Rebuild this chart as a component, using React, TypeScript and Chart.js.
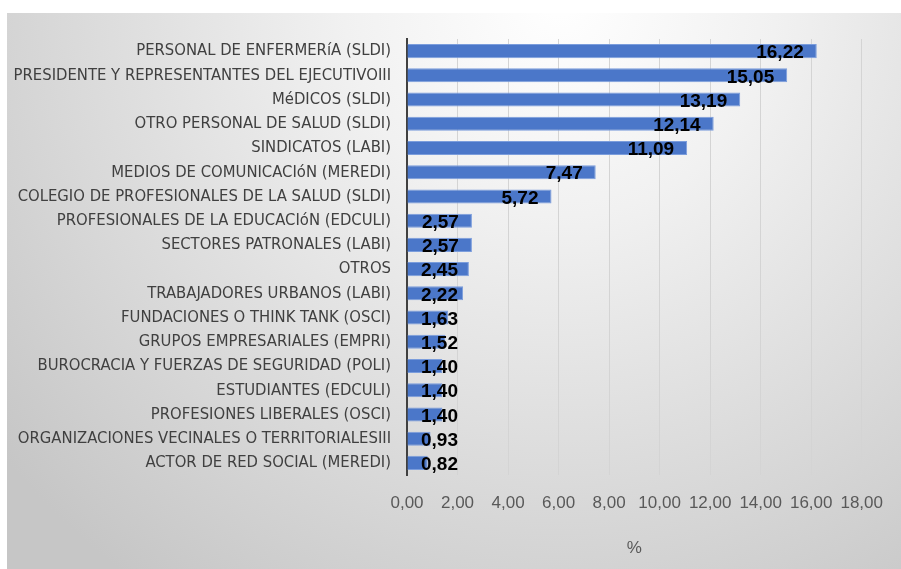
import React, { useEffect, useRef } from "react";
import { Chart, registerables } from "chart.js";

Chart.register(...registerables);

const categories: string[] = [
  "PERSONAL DE ENFERMERíA (SLDI)",
  "PRESIDENTE Y REPRESENTANTES DEL EJECUTIVOIII",
  "MéDICOS (SLDI)",
  "OTRO PERSONAL DE SALUD (SLDI)",
  "SINDICATOS (LABI)",
  "MEDIOS DE COMUNICACIóN (MEREDI)",
  "COLEGIO DE PROFESIONALES DE LA SALUD (SLDI)",
  "PROFESIONALES DE LA EDUCACIóN (EDCULI)",
  "SECTORES PATRONALES (LABI)",
  "OTROS",
  "TRABAJADORES URBANOS (LABI)",
  "FUNDACIONES O THINK TANK (OSCI)",
  "GRUPOS EMPRESARIALES (EMPRI)",
  "BUROCRACIA Y FUERZAS DE SEGURIDAD (POLI)",
  "ESTUDIANTES (EDCULI)",
  "PROFESIONES LIBERALES (OSCI)",
  "ORGANIZACIONES VECINALES O TERRITORIALESIII",
  "ACTOR DE RED SOCIAL (MEREDI)",
];

const values: number[] = [
  16.22, 15.05, 13.19, 12.14, 11.09, 7.47, 5.72, 2.57, 2.57, 2.45, 2.22, 1.63,
  1.52, 1.4, 1.4, 1.4, 0.93, 0.82,
];

const axisMax = 18;
const axisStep = 2;
const axisTitle = "%";

const fmt = (v: number) => v.toFixed(2).replace(".", ",");

const bgPlugin = {
  id: "panelBg",
  beforeDraw(chart: any) {
    const { ctx, width, height } = chart;
    ctx.save();
    ctx.fillStyle = "#ffffff";
    ctx.fillRect(0, 0, width, height);
    const g = ctx.createRadialGradient(560, 0, 0, 560, 0, 720);
    g.addColorStop(0, "#ffffff");
    g.addColorStop(0.3, "#f1f1f1");
    g.addColorStop(1, "#c6c6c6");
    ctx.fillStyle = g;
    ctx.fillRect(7, 13, width - 7, height - 13);
    ctx.restore();
  },
};

const labelPlugin = {
  id: "barLabels",
  afterDatasetsDraw(chart: any) {
    const { ctx } = chart;
    const meta = chart.getDatasetMeta(0);
    const xScale = chart.scales.x;
    const base = xScale.getPixelForValue(0);
    ctx.save();
    ctx.font = "bold 19px 'Liberation Sans', Arial, sans-serif";
    ctx.fillStyle = "#000000";
    ctx.textBaseline = "middle";
    ctx.textAlign = "left";
    meta.data.forEach((bar: any, i: number) => {
      const txt = fmt(values[i]);
      const w = ctx.measureText(txt).width;
      let x = bar.x - 13 - w;
      if (x < base + 14) x = base + 14;
      ctx.fillText(txt, x, bar.y + 2);
    });
    ctx.restore();
  },
};

export default function App() {
  const ref = useRef<HTMLCanvasElement | null>(null);
  useEffect(() => {
    if (!ref.current) return;
    const chart = new Chart(ref.current, {
      type: "bar",
      data: {
        labels: categories,
        datasets: [
          {
            data: values,
            backgroundColor: "#4b77c9",
            borderColor: "#7b9ddc",
            borderWidth: 1,
            categoryPercentage: 1,
            barPercentage: 0.58,
          },
        ],
      },
      options: {
        indexAxis: "y",
        animation: false,
        responsive: false,
        maintainAspectRatio: false,
        devicePixelRatio: 1,
        layout: { padding: { left: 0, top: 39, right: 33, bottom: 0 } },
        plugins: {
          legend: { display: false },
          tooltip: { enabled: false },
        },
        scales: {
          x: {
            min: 0,
            max: axisMax,
            ticks: {
              stepSize: axisStep,
              callback: (v: any) => fmt(Number(v)),
              color: "#595959",
              font: { family: "'Liberation Sans', Arial, sans-serif", size: 17 },
              padding: 18,
            },
            grid: { color: "#d4d4d4", lineWidth: 1, drawTicks: false },
            border: { display: false },
            title: {
              display: true,
              text: axisTitle,
              color: "#595959",
              font: { family: "'Liberation Sans', Arial, sans-serif", size: 17 },
              padding: { top: 4, bottom: 10 },
            },
            afterFit: (s: any) => {
              s.height = 569 - 475;
            },
          },
          y: {
            ticks: {
              color: "#404040",
              font: { family: "'Liberation Sans Narrow', 'DejaVu Sans Condensed', sans-serif", size: 16.5 },
              padding: 16,
              autoSkip: false,
            },
            grid: { display: false, drawTicks: false },
            border: { display: true, color: "#404040", width: 2 },
            afterFit: (s: any) => {
              s.width = 407;
            },
          },
        },
      },
      plugins: [bgPlugin, labelPlugin],
    });
    return () => chart.destroy();
  }, []);
  return (
    <div style={{ position: "fixed", left: 0, top: 0, width: 901, height: 569 }}>
      <canvas ref={ref} width={901} height={569} style={{ width: 901, height: 569, display: "block" }} />
    </div>
  );
}
